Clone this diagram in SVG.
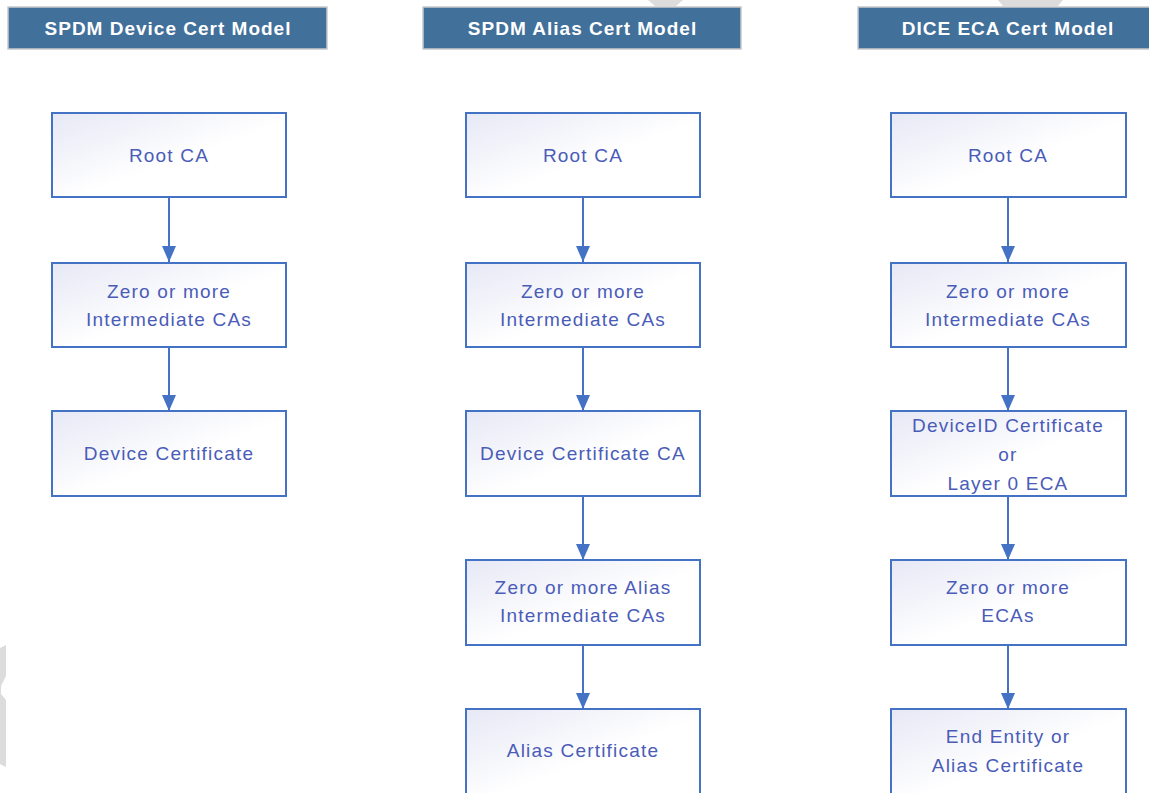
<svg xmlns="http://www.w3.org/2000/svg" width="1149" height="793" viewBox="0 0 1149 793">
<defs>
<linearGradient id="nodeFill" x1="0" y1="0" x2="1" y2="1">
<stop offset="0" stop-color="#e6e8f5"/>
<stop offset="0.55" stop-color="#ffffff"/>
<stop offset="1" stop-color="#ffffff"/>
</linearGradient>
<marker id="arrow" markerWidth="16" markerHeight="14" refX="16" refY="7" orient="auto" markerUnits="userSpaceOnUse">
<path d="M0,0 L16,7 L0,14 Z" fill="#4472c4"/>
</marker>
<style>
.hdr{fill:#41709b;stroke:#c9c9c9;stroke-width:1.5}
.hdrt{font-family:"Liberation Sans",Arial,sans-serif;font-weight:bold;font-size:19px;letter-spacing:1px;fill:#ffffff;text-anchor:middle}
.node{fill:url(#nodeFill);stroke:#4472c4;stroke-width:2}
.nt{font-family:"Liberation Sans",Arial,sans-serif;font-size:19px;letter-spacing:1.2px;fill:#4a5cb8;text-anchor:middle}
.conn{stroke:#4472c4;stroke-width:2;fill:none;marker-end:url(#arrow)}
.wm{fill:#dcdcdc}
</style>
</defs>
<rect width="1149" height="793" fill="#ffffff"/>
<g id="watermark">
<polygon class="wm" points="648,0 683,0 676,6 655,6"/>
<polygon class="wm" points="998,0 1063,0 1058,6 1003,6"/>
<polygon class="wm" points="0,648 6,645 6,676 1,686 1,694 6,700 6,767 0,764"/>
</g>
<g id="header-1"><rect class="hdr" x="8" y="7" width="319" height="42"/><text class="hdrt" x="168" y="35">SPDM Device Cert Model</text></g>
<g id="header-2"><rect class="hdr" x="423" y="7" width="318" height="42"/><text class="hdrt" x="582.5" y="35">SPDM Alias Cert Model</text></g>
<g id="header-3"><rect class="hdr" x="858" y="7" width="300" height="42"/><text class="hdrt" x="1008" y="35">DICE ECA Cert Model</text></g>

<g id="connectors">
<line class="conn" x1="169" y1="197" x2="169" y2="262"/>
<line class="conn" x1="169" y1="347" x2="169" y2="411"/>
<line class="conn" x1="583" y1="197" x2="583" y2="262"/>
<line class="conn" x1="583" y1="347" x2="583" y2="411"/>
<line class="conn" x1="583" y1="496" x2="583" y2="560"/>
<line class="conn" x1="583" y1="645" x2="583" y2="709"/>
<line class="conn" x1="1008" y1="197" x2="1008" y2="262"/>
<line class="conn" x1="1008" y1="347" x2="1008" y2="411"/>
<line class="conn" x1="1008" y1="496" x2="1008" y2="560"/>
<line class="conn" x1="1008" y1="645" x2="1008" y2="709"/>
</g>

<g id="a-root"><rect class="node" x="52" y="113" width="234" height="84"/><text class="nt" x="169" y="162">Root CA</text></g>
<g id="a-int"><rect class="node" x="52" y="263" width="234" height="84"/><text class="nt" x="169" y="298">Zero or more</text><text class="nt" x="169" y="326">Intermediate CAs</text></g>
<g id="a-dev"><rect class="node" x="52" y="411" width="234" height="85"/><text class="nt" x="169" y="460">Device Certificate</text></g>

<g id="b-root"><rect class="node" x="466" y="113" width="234" height="84"/><text class="nt" x="583" y="162">Root CA</text></g>
<g id="b-int"><rect class="node" x="466" y="263" width="234" height="84"/><text class="nt" x="583" y="298">Zero or more</text><text class="nt" x="583" y="326">Intermediate CAs</text></g>
<g id="b-devca"><rect class="node" x="466" y="411" width="234" height="85"/><text class="nt" x="583" y="460">Device Certificate CA</text></g>
<g id="b-aliasint"><rect class="node" x="466" y="560" width="234" height="85"/><text class="nt" x="583" y="594">Zero or more Alias</text><text class="nt" x="583" y="622">Intermediate CAs</text></g>
<g id="b-alias"><rect class="node" x="466" y="709" width="234" height="90"/><text class="nt" x="583" y="757">Alias Certificate</text></g>

<g id="c-root"><rect class="node" x="891" y="113" width="235" height="84"/><text class="nt" x="1008" y="162">Root CA</text></g>
<g id="c-int"><rect class="node" x="891" y="263" width="235" height="84"/><text class="nt" x="1008" y="298">Zero or more</text><text class="nt" x="1008" y="326">Intermediate CAs</text></g>
<g id="c-devid"><rect class="node" x="891" y="411" width="235" height="85"/><text class="nt" x="1008" y="432">DeviceID Certificate</text><text class="nt" x="1008" y="461">or</text><text class="nt" x="1008" y="490">Layer 0 ECA</text></g>
<g id="c-eca"><rect class="node" x="891" y="560" width="235" height="85"/><text class="nt" x="1008" y="594">Zero or more</text><text class="nt" x="1008" y="622">ECAs</text></g>
<g id="c-ee"><rect class="node" x="891" y="709" width="235" height="90"/><text class="nt" x="1008" y="743">End Entity or</text><text class="nt" x="1008" y="772">Alias Certificate</text></g>
</svg>
